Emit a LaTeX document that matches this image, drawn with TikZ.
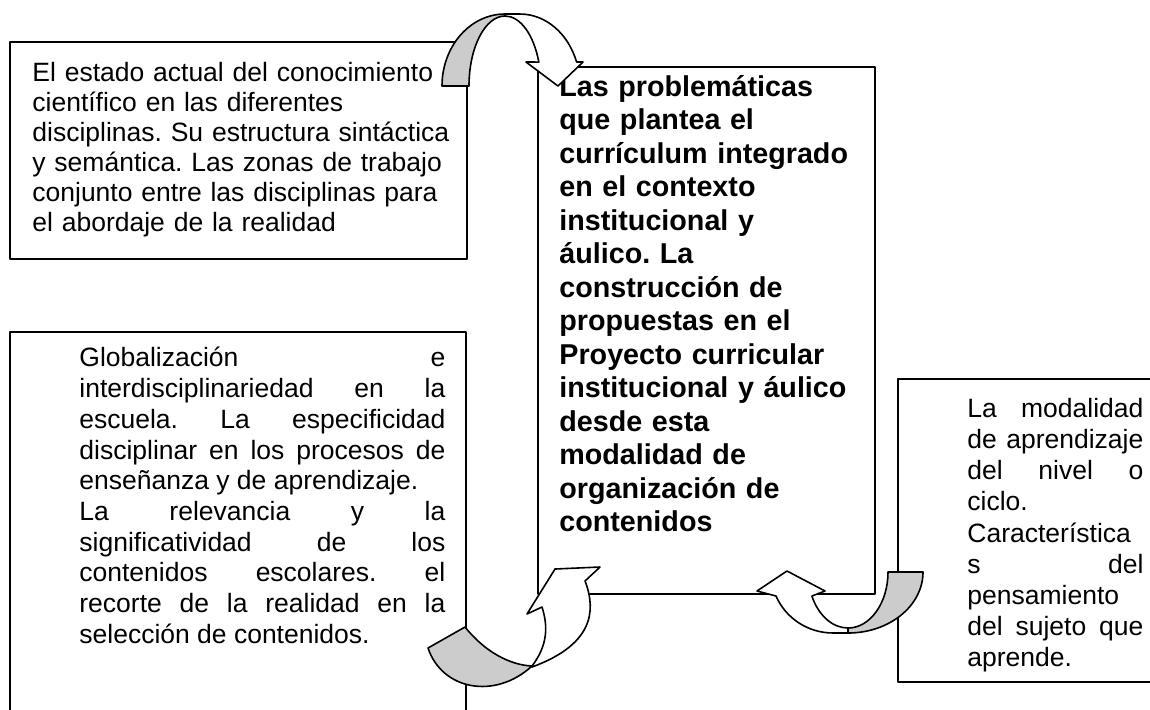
\documentclass[tikz,border=0pt]{standalone}
\usepackage{fontspec}
\setmainfont{Liberation Sans}
\frenchspacing
\definecolor{backgray}{RGB}{204,204,204}
\tikzset{
  boxline/.style={draw,line width=0.9pt},
  backband/.style={draw,line width=0.8pt,fill=backgray},
  frontband/.style={draw,line width=0.8pt,fill=white},
  txt/.style={anchor=north west,inner sep=0pt,align=justify,
    execute at begin node={\frenchspacing\tolerance=10000\hyphenpenalty=10000\hbadness=10000}}
}
\begin{document}
\begin{tikzpicture}[x=0.5pt,y=-0.5pt,line join=round,line cap=round]
\useasboundingbox (0,0) rectangle (1150,709);
\draw[boxline] (10,42) rectangle (467,259);
\draw[boxline] (10,332) rectangle (466,740);
\draw[boxline] (538,67) rectangle (875,594);
\draw[boxline] (898,379) rectangle (1180,682);
\node[txt,align=left,text width=215pt,font=\fontsize{13.25}{15}\selectfont] (estado) at (32,60)
  {\strut El estado actual del conocimiento\\ científico en las diferentes\\ disciplinas. Su estructura sintáctica\\ y semántica. Las zonas de trabajo\\ conjunto entre las disciplinas para\\ el abordaje de la realidad};
\node[txt,text width=183pt,font=\fontsize{13.25}{15.35}\selectfont] (globalizacion) at (79,345)
  {\strut Globalización e\linebreak interdisciplinariedad en la\linebreak escuela. La especificidad\linebreak disciplinar en los procesos de\linebreak enseñanza y de aprendizaje.\\ La relevancia y la\linebreak significatividad de los\linebreak contenidos escolares. el\linebreak recorte de la realidad en la\linebreak selección de contenidos.};
\node[txt,align=left,text width=150pt,font=\fontsize{14.35}{16.75}\selectfont\bfseries] (problematicas) at (559,72.5)
  {\strut Las problemáticas\\ que plantea el\\ currículum integrado\\ en el contexto\\ institucional y\\ áulico. La\\ construcción de\\ propuestas en el\\ Proyecto curricular\\ institucional y áulico\\ desde esta\\ modalidad de\\ organización de\\ contenidos};
\node[txt,text width=88pt,font=\fontsize{13.25}{15.6}\selectfont] (modalidad) at (967,395)
  {\strut La modalidad\linebreak de aprendizaje\linebreak del nivel o\linebreak ciclo.\\ Característica\linebreak s del\linebreak pensamiento\linebreak del sujeto que\linebreak aprende.};
\draw[backband] (442,86) arc[start angle=180,end angle=270,x radius=63,y radius=72] -- (505,16)
  arc[start angle=270,end angle=180,x radius=36,y radius=70] -- cycle;
\draw[frontband] (505,16) arc[start angle=270,end angle=340,x radius=36,y radius=70] -- (526,62) -- (558,86) -- (583,62) -- (576.6,62)
  arc[start angle=340.5,end angle=270,x radius=60,y radius=72] -- (505,14) -- cycle;
\draw[backband] (428,648) -- (465,627) .. controls (485,652) and (510,665) .. (532,666)
  .. controls (495,700) and (442,690) .. (428,648) -- cycle;
\draw[frontband] (532,666) .. controls (548,645) and (548,626) .. (542,607) -- (527,614) -- (555,569) -- (600,567) -- (585,581)
  .. controls (597,612) and (592,645) .. (532,667) -- cycle;
\draw[backband] (923,572) arc[start angle=0,end angle=90,x radius=75,y radius=61] -- (848,628)
  arc[start angle=90,end angle=0,x radius=40,y radius=56] -- cycle;
\draw[frontband] (848,628) arc[start angle=90,end angle=154.6,x radius=40,y radius=56] -- (825,591) -- (787,571) -- (757,591) -- (776,596)
  arc[start angle=156.8,end angle=90,x radius=62,y radius=61] -- (848,633) -- cycle;
\end{tikzpicture}
\end{document}
